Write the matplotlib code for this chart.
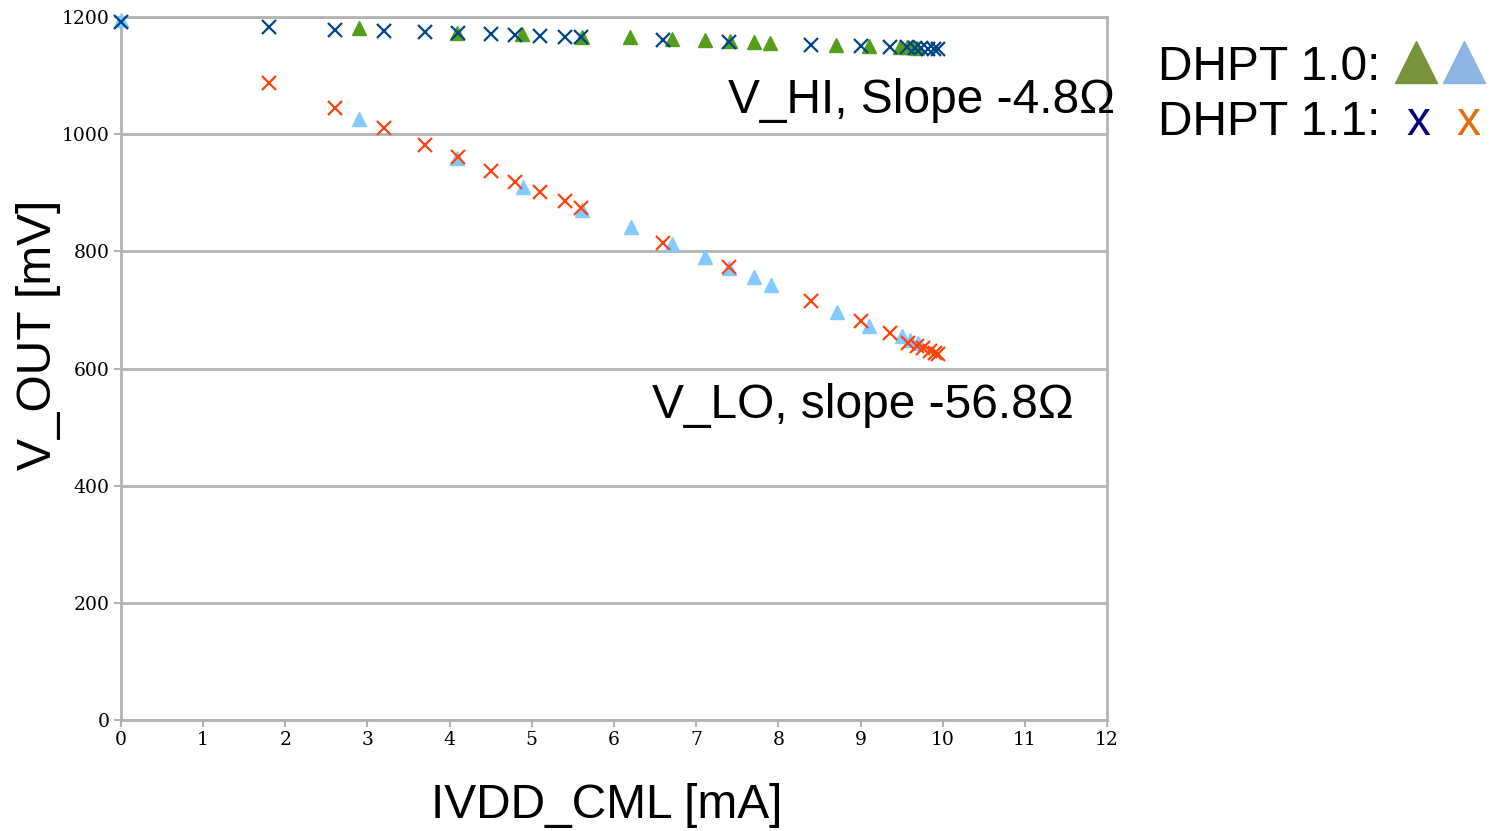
import matplotlib
matplotlib.use("Agg")
import matplotlib.pyplot as plt
from matplotlib.lines import Line2D

# DHPT 1.1 (x markers)
x11 = [0, 1.8, 2.6, 3.2, 3.7, 4.1, 4.5, 4.8, 5.1, 5.4, 5.6, 6.6, 7.4, 8.4, 9.0, 9.36, 9.56, 9.66, 9.74, 9.82, 9.89, 9.94]
hi11 = [1191, 1183, 1178, 1176, 1175, 1173, 1171, 1169, 1168, 1166, 1166, 1161, 1157, 1152, 1150, 1149, 1148, 1147, 1147, 1146, 1146, 1145]
x11_lo = [1.8, 2.6, 3.2, 3.7, 4.1, 4.5, 4.8, 5.1, 5.4, 5.6, 6.6, 7.4, 8.4, 9.0, 9.36, 9.58, 9.69, 9.76, 9.85, 9.91, 9.94]
lo11 = [1087, 1045, 1011, 982, 961, 937, 918, 901, 886, 874, 814, 773, 715, 681, 661, 644, 638, 635, 630, 626, 625]

# DHPT 1.0 (triangle markers)
x10_hi = [2.9, 4.09, 4.88, 5.61, 6.19, 6.71, 7.11, 7.41, 7.70, 7.90, 8.70, 9.10, 9.48, 9.57, 9.63, 9.69]
hi10 = [1181, 1173, 1171, 1166, 1166, 1162, 1161, 1159, 1157, 1156, 1152, 1150, 1149, 1148, 1148, 1147]
x10_lo = [0, 2.9, 4.09, 4.89, 5.61, 6.21, 6.71, 7.11, 7.40, 7.70, 7.91, 8.71, 9.10, 9.50, 9.60, 9.70]
lo10 = [1195, 1026, 959, 910, 871, 842, 813, 790, 772, 756, 743, 697, 673, 656, 649, 644]

xticks = list(range(0, 13))
yticks = [0, 200, 400, 600, 800, 1000, 1200]

C_BLUE = "#004586"
C_ORANGE = "#ff420e"
C_GREEN = "#579d1c"
C_LBLUE = "#83caff"
GRID = "#b3b3b3"

fig = plt.figure(figsize=(14.93, 8.31), dpi=100)
ax = fig.add_axes([0.081, 0.1336, 0.6605, 0.8459])

ax.set_xlim(0, 12)
ax.set_ylim(0, 1200)
ax.set_xticks(xticks)
ax.set_yticks(yticks)
ax.grid(axis='y', color=GRID, linewidth=2)
ax.set_axisbelow(True)
for s in ax.spines.values():
    s.set_color(GRID)
    s.set_linewidth(2)
ax.tick_params(colors=GRID, length=5, width=1.5, labelcolor='black', pad=3)
for lab in ax.get_xticklabels() + ax.get_yticklabels():
    lab.set_family('DejaVu Serif')
    lab.set_fontsize(13.5)

ax.plot(x10_lo, lo10, linestyle='none', marker='^', markersize=10, color=C_LBLUE, clip_on=False, zorder=3)
ax.plot(x10_hi, hi10, linestyle='none', marker='^', markersize=10, color=C_GREEN, clip_on=False, zorder=3)
ax.plot(x11_lo, lo11, linestyle='none', marker='x', markersize=10, markeredgewidth=1.6, color=C_ORANGE, clip_on=False, zorder=4)
ax.plot(x11, hi11, linestyle='none', marker='x', markersize=10, markeredgewidth=1.6, color=C_BLUE, clip_on=False, zorder=4)

ax.set_xlabel("IVDD_CML [mA]", fontsize=34.5, family='Liberation Sans', va='center')
ax.xaxis.set_label_coords(0.493, -0.121)
ax.set_ylabel("V_OUT [mV]", fontsize=34.5, family='Liberation Sans', va='center')
ax.yaxis.set_label_coords(-0.084, 0.548)

ax.text(7.39, 1058, "V_HI, Slope -4.8\u03a9", fontsize=34.5, family='Liberation Sans', ha='left', va='center', clip_on=False)
ax.text(6.46, 537, "V_LO, slope -56.8\u03a9", fontsize=34.5, family='Liberation Sans', ha='left', va='center')

# Legend-like annotation
fig.text(0.7756, 0.919, "DHPT 1.0:", fontsize=34.5, family='Liberation Sans', ha='left', va='center')
fig.text(0.7756, 0.853, "DHPT 1.1:", fontsize=34.5, family='Liberation Sans', ha='left', va='center')
fig.add_artist(Line2D([0.9484], [0.925], marker='^', markersize=30, color='#77933c', transform=fig.transFigure))
fig.add_artist(Line2D([0.9803], [0.925], marker='^', markersize=30, color='#8eb4e3', transform=fig.transFigure))
fig.text(0.9498, 0.853, "x", fontsize=34.5, family='Liberation Sans', color='#000080', ha='center', va='center')
fig.text(0.9833, 0.853, "x", fontsize=34.5, family='Liberation Sans', color='#e46c0a', ha='center', va='center')

fig.savefig("out.png", dpi=100)
